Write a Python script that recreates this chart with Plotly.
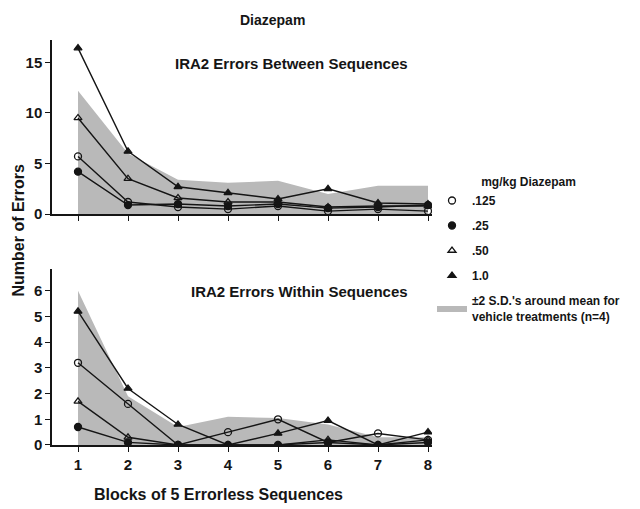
import plotly.graph_objects as go

blocks = [1, 2, 3, 4, 5, 6, 7, 8]
tick_labels = ["1", "2", "3", "4", "5", "6", "7", "8"]

doses = [".125", ".25", ".50", "1.0"]
symbols = ["circle-open", "circle", "triangle-up-open", "triangle-up"]

# Errors Between Sequences
between = {
    ".125": [5.7, 1.2, 0.7, 0.5, 0.8, 0.3, 0.5, 0.3],
    ".25":  [4.2, 0.9, 1.0, 0.8, 1.0, 0.6, 0.7, 0.9],
    ".50":  [9.5, 3.5, 1.6, 1.2, 1.2, 0.7, 0.8, 0.8],
    "1.0":  [16.4, 6.2, 2.7, 2.1, 1.5, 2.5, 1.1, 1.0],
}
between_band_upper = [12.2, 6.0, 3.4, 3.1, 3.3, 2.0, 2.8, 2.8]

# Errors Within Sequences
within = {
    ".125": [3.2, 1.6, 0.0, 0.5, 1.0, 0.1, 0.45, 0.2],
    ".25":  [0.7, 0.1, 0.0, 0.0, 0.0, 0.1, 0.0, 0.1],
    ".50":  [1.7, 0.3, 0.0, 0.0, 0.0, 0.2, 0.0, 0.2],
    "1.0":  [5.2, 2.2, 0.8, 0.0, 0.45, 0.95, 0.0, 0.5],
}
within_band_upper = [6.0, 1.9, 0.7, 1.1, 1.05, 0.8, 0.3, 0.3]

band_label = "±2 S.D.'s around mean for<br>vehicle treatments (n=4)"

FONT = "Liberation Sans, Arial, sans-serif"
INK = "#151515"
fig = go.Figure()

band_color = "#b9b9b9"

for yaxis, xaxis, upper, data, first in [
    ("y", "x", between_band_upper, between, True),
    ("y2", "x2", within_band_upper, within, False),
]:
    fig.add_trace(go.Scatter(
        x=blocks, y=upper, xaxis=xaxis, yaxis=yaxis,
        mode="lines", line=dict(width=0, color=band_color),
        fill="tozeroy", fillcolor=band_color,
        name=band_label, showlegend=first, legendrank=1000,
        legendgroup="band", hoverinfo="skip"))
    for d, sym in zip(doses, symbols):
        fig.add_trace(go.Scatter(
            x=blocks, y=data[d], xaxis=xaxis, yaxis=yaxis,
            mode="lines", line=dict(color=INK, width=1.4),
            showlegend=False, hoverinfo="skip"))
    for i, (d, sym) in enumerate(zip(doses, symbols)):
        fig.add_trace(go.Scatter(
            x=blocks, y=data[d], xaxis=xaxis, yaxis=yaxis,
            mode="markers",
            marker=dict(symbol=sym, size=7, color=INK,
                        line=dict(color=INK, width=1.3)),
            name=d, showlegend=first, legendrank=i + 1, legendgroup=d))

axis_common = dict(
    showline=True, linecolor=INK, linewidth=1.5,
    ticks="outside", ticklen=5, tickwidth=1.3, tickcolor=INK,
    showgrid=False, zeroline=False,
    tickfont=dict(family=FONT, size=15, color=INK, weight="bold"),
)

def txt(size):
    return dict(family=FONT, size=size, color=INK, weight="bold")

fig.update_layout(
    width=640, height=509,
    margin=dict(l=52, r=208, t=40, b=64),
    paper_bgcolor="white", plot_bgcolor="white",
    font=dict(family=FONT, color=INK),
    xaxis=dict(axis_common, domain=[0, 1], range=[0.48, 8.08],
               tickvals=blocks, ticktext=tick_labels, showticklabels=False,
               anchor="y"),
    yaxis=dict(axis_common, domain=[0.570, 1], range=[0, 17.2],
               tickvals=[0, 5, 10, 15], anchor="x"),
    xaxis2=dict(axis_common, domain=[0, 1], range=[0.48, 8.08],
                tickvals=blocks, ticktext=tick_labels, anchor="y2"),
    yaxis2=dict(axis_common, domain=[0, 0.4346], range=[0, 6.85],
                tickvals=[0, 1, 2, 3, 4, 5, 6], anchor="x2"),
    legend=dict(
        x=1.0, y=0.678, xanchor="left", yanchor="top",
        title=dict(text="mg/kg Diazepam", font=txt(12), side="top center"),
        font=txt(12),
        bgcolor="rgba(0,0,0,0)", tracegroupgap=6, itemwidth=30,
    ),
    showlegend=True,
    annotations=[
        dict(text="Diazepam", x=0.579, y=1.049, xref="paper", yref="paper",
             xanchor="center", yanchor="middle",
             showarrow=False, font=txt(14)),
        dict(text="IRA2 Errors Between Sequences", x=0.629, y=0.941,
             xref="paper", yref="paper", showarrow=False,
             xanchor="center", yanchor="middle", font=txt(15)),
        dict(text="IRA2 Errors Within Sequences", x=0.65, y=0.378,
             xref="paper", yref="paper", showarrow=False,
             xanchor="center", yanchor="middle", font=txt(15)),
        dict(text="Number of Errors", x=-0.088, y=0.531, xref="paper",
             yref="paper", showarrow=False, textangle=-90,
             xanchor="center", yanchor="middle", font=txt(16)),
        dict(text="Blocks of 5 Errorless Sequences", x=0.437, y=-0.123,
             xref="paper", yref="paper", showarrow=False,
             xanchor="center", yanchor="middle", font=txt(16)),
    ],
)

fig.write_html("out.html")
